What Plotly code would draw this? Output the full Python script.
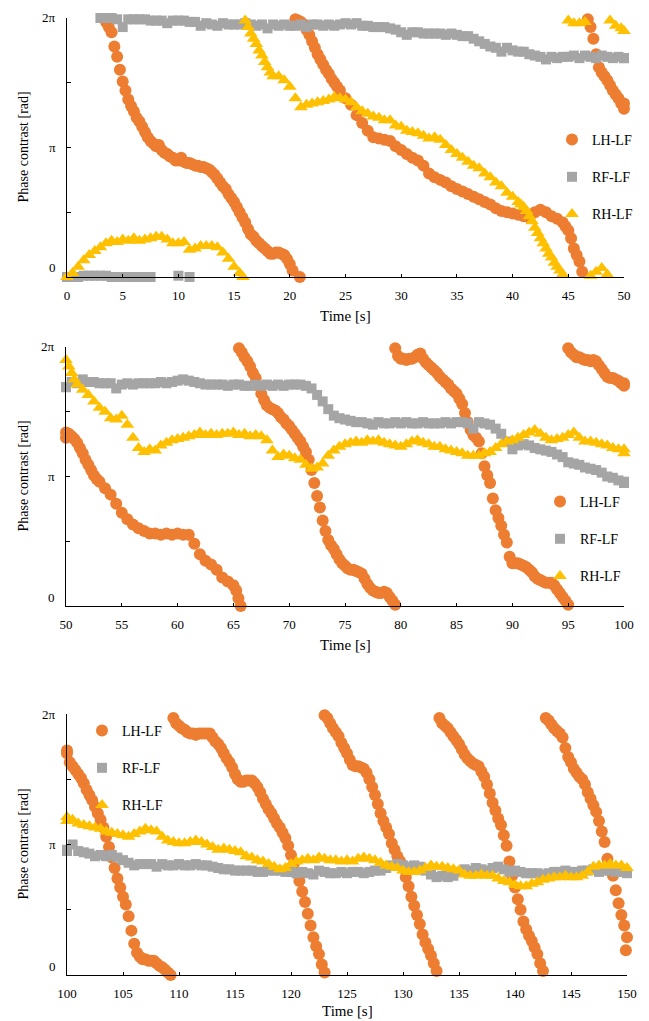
import numpy as np
import plotly.graph_objects as go

# ---------------- data (phase contrast in units of pi, time in s) ----------------
# each segment: (start time [s], sampling step [s], values [x pi rad])
LH_SEGMENTS = [
    (3.5, 0.25, [1.97, 1.93, 1.89, 1.78, 1.70, 1.60, 1.51, 1.44, 1.37, 1.32,
                 1.28, 1.23, 1.20, 1.16, 1.12, 1.08, 1.05, 1.03, 1.01, 1.02,
                 0.98, 0.96, 0.95, 0.93, 0.92, 0.90, 0.90, 0.92, 0.89, 0.88,
                 0.88, 0.87, 0.86, 0.86, 0.85, 0.85, 0.84, 0.83, 0.81, 0.79,
                 0.76, 0.73, 0.70, 0.68, 0.64, 0.61, 0.58, 0.54, 0.50, 0.46,
                 0.42, 0.37, 0.33, 0.31, 0.28, 0.26, 0.24, 0.22, 0.20, 0.18,
                 0.18, 0.19, 0.19, 0.18, 0.17, 0.14, 0.10, 0.05]),
    (20.9, 0.25, [0.00]),
    (20.5, 0.25, [1.99, 1.98, 1.97, 1.95, 1.91, 1.87, 1.82, 1.77, 1.72, 1.68,
                  1.64, 1.60, 1.57, 1.53, 1.50, 1.47]),
    (24.5, 0.5, [1.44, 1.38, 1.33, 1.25, 1.19, 1.13, 1.08, 1.07, 1.06, 1.05,
                 1.01, 0.98, 0.95, 0.92, 0.90, 0.86, 0.80, 0.77, 0.75, 0.73,
                 0.70, 0.68, 0.66, 0.64, 0.62, 0.60, 0.58, 0.56, 0.53, 0.51,
                 0.50, 0.49, 0.48, 0.47, 0.46, 0.50, 0.52, 0.50, 0.47, 0.45,
                 0.42]),
    (44.75, 0.25, [0.39, 0.36, 0.30, 0.22, 0.17, 0.12, 0.04]),
    (46.75, 0.25, [1.99, 1.93, 1.84, 1.72, 1.62, 1.58, 1.55, 1.52, 1.48, 1.44,
                   1.41, 1.38, 1.34, 1.30]),
    (50.0, 0.25, [1.34, 1.33, 1.31, 1.29, 1.26, 1.22, 1.18, 1.13, 1.09, 1.05,
                  1.01, 0.98]),
    (53.0, 0.5, [0.96, 0.91, 0.86, 0.79, 0.72, 0.67, 0.63, 0.60, 0.58, 0.56,
                 0.56, 0.55, 0.56, 0.55, 0.56, 0.55, 0.55, 0.48, 0.40, 0.35,
                 0.32, 0.28, 0.22, 0.19, 0.16]),
    (65.25, 0.2, [0.12, 0.06, 0.00]),
    (65.5, 0.25, [1.99, 1.96, 1.92, 1.89, 1.85, 1.80, 1.76, 1.70, 1.64, 1.59,
                  1.55, 1.53, 1.52, 1.51, 1.49, 1.46, 1.44, 1.41, 1.39, 1.36,
                  1.33, 1.30, 1.27, 1.23, 1.19, 1.13, 1.05, 0.95, 0.85, 0.76,
                  0.66, 0.58, 0.51, 0.47, 0.44, 0.40, 0.36, 0.33, 0.31, 0.29,
                  0.28, 0.28, 0.27, 0.26, 0.25, 0.21, 0.17, 0.14, 0.12, 0.11,
                  0.10, 0.10, 0.11, 0.10, 0.07, 0.04, 0.01]),
    (79.5, 0.25, [1.99, 1.93, 1.91, 1.91, 1.90, 1.91, 1.91, 1.92, 1.94, 1.95,
                  1.91, 1.88, 1.86, 1.84, 1.82, 1.80, 1.77, 1.75, 1.73, 1.71,
                  1.68, 1.66, 1.64, 1.60, 1.56, 1.49, 1.42, 1.36, 1.32, 1.30,
                  1.27, 1.18, 1.08, 1.01, 0.95, 0.83, 0.74, 0.68, 0.62, 0.55,
                  0.49, 0.38, 0.33, 0.33, 0.33, 0.32, 0.31, 0.30, 0.28, 0.26,
                  0.23, 0.21, 0.20, 0.19, 0.18, 0.18, 0.18, 0.16, 0.13, 0.10,
                  0.07, 0.04, 0.01]),
    (95.0, 0.25, [1.99, 1.96, 1.94, 1.92, 1.92, 1.91, 1.90, 1.90, 1.89, 1.90,
                  1.89, 1.86, 1.83, 1.80, 1.77, 1.76, 1.76, 1.75, 1.74, 1.72,
                  1.70]),
    (100.0, 0.25, [1.72, 1.63, 1.60, 1.57, 1.54, 1.51, 1.47, 1.42, 1.38, 1.34,
                   1.29, 1.24, 1.19, 1.13, 1.06, 0.98, 0.90, 0.82, 0.74, 0.67,
                   0.60, 0.54, 0.45, 0.34, 0.24, 0.17, 0.14, 0.12, 0.12, 0.11,
                   0.11, 0.11, 0.09, 0.07, 0.06, 0.04, 0.02, 0.00]),
    (109.5, 0.25, [1.97, 1.93, 1.91, 1.89, 1.88, 1.86, 1.85, 1.85, 1.84, 1.85,
                   1.85, 1.85, 1.85, 1.85, 1.82, 1.79, 1.77, 1.74, 1.70, 1.66,
                   1.63, 1.59, 1.54, 1.50, 1.48, 1.48, 1.49, 1.49, 1.49, 1.47,
                   1.44, 1.40, 1.35, 1.31, 1.27, 1.24, 1.20, 1.16, 1.13, 1.09,
                   1.05, 0.99, 0.92, 0.85, 0.78, 0.72, 0.64, 0.56, 0.47, 0.38,
                   0.29, 0.22, 0.16, 0.08, 0.02]),
    (123.0, 0.25, [1.99, 1.97, 1.93, 1.89, 1.86, 1.83, 1.78, 1.74, 1.70, 1.65,
                   1.61, 1.60, 1.60, 1.59, 1.58, 1.55, 1.50, 1.44, 1.38, 1.31,
                   1.24, 1.18, 1.13, 1.08, 1.01, 0.96, 0.91, 0.87, 0.82, 0.75,
                   0.68, 0.60, 0.53, 0.46, 0.39, 0.31, 0.25, 0.20, 0.15, 0.09,
                   0.03]),
    (133.25, 0.25, [1.97, 1.93, 1.91, 1.89, 1.86, 1.83, 1.80, 1.77, 1.73, 1.69,
                    1.66, 1.64, 1.62, 1.61, 1.60, 1.56, 1.52, 1.46, 1.39, 1.32,
                    1.26, 1.20, 1.15, 1.07, 0.99, 0.87, 0.76, 0.67, 0.58, 0.50,
                    0.41, 0.35, 0.30, 0.26, 0.21, 0.16, 0.09, 0.03]),
    (142.75, 0.25, [1.97, 1.95, 1.92, 1.89, 1.87, 1.85, 1.82, 1.74, 1.67, 1.63,
                    1.58, 1.55, 1.52, 1.50, 1.46, 1.40, 1.35, 1.30, 1.25, 1.18,
                    1.10, 1.02, 0.89, 0.82, 0.76, 0.65, 0.55, 0.46, 0.38, 0.29]),
    (149.9, 0.25, [0.19]),
]

RF_SEGMENTS = [
    (0.0, 0.5, [0.00, 0.00, 0.00, 0.01, 0.01, 0.01, 0.01, 0.01, 0.00, 0.00,
                0.00, 0.00, 0.00, 0.00, 0.00, 0.00]),
    (10.0, 1.0, [0.01, 0.00]),
    (3.0, 0.5, [2.00, 2.00, 2.00, 1.99, 1.93, 1.99, 1.99, 1.99, 1.99, 1.98,
                1.98, 1.98, 1.96, 1.98, 1.98, 1.98, 1.97, 1.97, 1.94, 1.96,
                1.95, 1.94, 1.96, 1.95, 1.95, 1.95, 1.96, 1.95, 1.94, 1.95,
                1.92, 1.95, 1.94, 1.95, 1.94, 1.94, 1.95, 1.93, 1.95, 1.95,
                1.94, 1.95, 1.94, 1.95, 1.96, 1.95, 1.96, 1.94, 1.94, 1.93,
                1.93, 1.93, 1.92, 1.91, 1.89, 1.87, 1.89, 1.89, 1.88, 1.88,
                1.88, 1.88, 1.87, 1.88, 1.87, 1.86, 1.86, 1.84, 1.82, 1.80,
                1.78, 1.77, 1.74, 1.77, 1.75, 1.74, 1.74, 1.72, 1.71, 1.70,
                1.68, 1.70, 1.69, 1.70, 1.70, 1.71, 1.69, 1.71, 1.70, 1.69,
                1.71, 1.70, 1.69, 1.70, 1.69]),
    (50.0, 0.5, [1.69, 1.73, 1.72, 1.75, 1.73, 1.73, 1.72, 1.72, 1.72, 1.68,
                 1.71, 1.72, 1.71, 1.72, 1.72, 1.72, 1.72, 1.73, 1.72, 1.73,
                 1.74, 1.75, 1.74, 1.73, 1.72, 1.71, 1.71, 1.71, 1.71, 1.70,
                 1.71, 1.71, 1.70, 1.70, 1.71, 1.70, 1.71, 1.70, 1.71, 1.70,
                 1.71, 1.71, 1.71, 1.70, 1.68, 1.63, 1.58, 1.52, 1.47, 1.45,
                 1.44, 1.43, 1.42, 1.42, 1.41, 1.40, 1.42, 1.41, 1.41, 1.42,
                 1.41, 1.42, 1.41, 1.41, 1.42, 1.41, 1.41, 1.41, 1.42, 1.41,
                 1.42, 1.42, 1.41, 1.37, 1.42, 1.41, 1.40, 1.37, 1.33, 1.27,
                 1.21, 1.24, 1.25, 1.24, 1.22, 1.21, 1.20, 1.19, 1.17, 1.15,
                 1.11, 1.10, 1.09, 1.07, 1.06, 1.05, 1.03, 1.00, 0.99, 0.97,
                 0.95]),
    (100.0, 0.5, [0.96, 1.00, 0.95, 0.94, 0.93, 0.91, 0.92, 0.91, 0.92, 0.90,
                  0.88, 0.86, 0.84, 0.85, 0.85, 0.85, 0.83, 0.85, 0.84, 0.84,
                  0.85, 0.84, 0.84, 0.85, 0.84, 0.84, 0.83, 0.82, 0.81, 0.81,
                  0.80, 0.80, 0.80, 0.80, 0.79, 0.79, 0.80, 0.80, 0.80, 0.79,
                  0.79, 0.78, 0.79, 0.78, 0.77, 0.80, 0.79, 0.78, 0.78, 0.79,
                  0.78, 0.79, 0.79, 0.78, 0.79, 0.80, 0.80, 0.82, 0.84, 0.85,
                  0.84, 0.83, 0.84, 0.83, 0.80, 0.77, 0.75, 0.76, 0.75, 0.76,
                  0.79, 0.81, 0.80, 0.82, 0.81, 0.80, 0.82, 0.83, 0.81, 0.79,
                  0.80, 0.79, 0.78, 0.78, 0.78, 0.77, 0.78, 0.79, 0.79, 0.80,
                  0.79, 0.79, 0.80, 0.80, 0.81, 0.79, 0.80, 0.80, 0.79, 0.79,
                  0.78]),
]

RH_SEGMENTS = [
    (0.0, 0.5, [0.00, 0.03, 0.08, 0.13, 0.17, 0.20, 0.23, 0.26, 0.28, 0.27,
                0.29, 0.28, 0.30, 0.28, 0.29, 0.30, 0.31, 0.31, 0.29, 0.26,
                0.26, 0.27, 0.21, 0.22, 0.24, 0.24, 0.24, 0.23, 0.19, 0.14,
                0.08, 0.03]),
    (15.8, 0.5, [0.00]),
    (16.0, 0.25, [1.98, 1.93, 1.88, 1.84, 1.80, 1.75, 1.71, 1.66, 1.62, 1.58]),
    (18.5, 0.5, [1.55, 1.55, 1.52, 1.47, 1.38,
                 1.31, 1.33, 1.34, 1.35, 1.36, 1.37, 1.39, 1.38, 1.37, 1.35,
                 1.31, 1.28, 1.26, 1.24, 1.23, 1.21, 1.21, 1.17, 1.16, 1.13,
                 1.12, 1.11, 1.09, 1.07, 1.08, 1.06, 1.02, 0.98, 0.95, 0.92,
                 0.89, 0.86, 0.84, 0.80, 0.77, 0.73, 0.70, 0.65, 0.62, 0.58]),
    (40.75, 0.25, [0.56, 0.54, 0.51, 0.47, 0.43, 0.38, 0.34, 0.30, 0.26, 0.22,
                   0.18, 0.15, 0.11, 0.08, 0.05, 0.02]),
    (45.0, 0.5, [1.98, 1.96, 1.96, 1.97]),
    (47.0, 0.5, [0.01, 0.04, 0.07, 0.02]),
    (48.75, 0.5, [1.98, 1.94, 1.92]),
    (50.0, 0.25, [1.90, 1.85, 1.80, 1.75]),
    (51.0, 0.5, [1.71, 1.67, 1.63, 1.58, 1.53, 1.50, 1.45, 1.44,
                 1.47, 1.40, 1.30, 1.22, 1.19, 1.21, 1.20, 1.24, 1.26, 1.28,
                 1.29, 1.30, 1.31, 1.32, 1.34, 1.32, 1.33, 1.32, 1.33, 1.33,
                 1.34, 1.32, 1.33, 1.31, 1.32, 1.31, 1.28, 1.20, 1.15, 1.17,
                 1.16, 1.14, 1.13, 1.09, 1.06, 1.07, 1.10, 1.16, 1.20, 1.23,
                 1.25, 1.26, 1.27, 1.26, 1.28, 1.27, 1.28, 1.26, 1.25, 1.24,
                 1.23, 1.25, 1.27, 1.28, 1.26, 1.25, 1.23, 1.23, 1.21, 1.20,
                 1.19, 1.18, 1.16, 1.16, 1.16, 1.18, 1.19, 1.22, 1.25, 1.27,
                 1.28, 1.30, 1.32, 1.34, 1.36, 1.33, 1.30, 1.28, 1.29, 1.30,
                 1.32, 1.34, 1.30, 1.27, 1.27, 1.26, 1.25, 1.24, 1.22, 1.21,
                 1.18]),
    (100.0, 0.5, [1.21, 1.19, 1.16, 1.15, 1.14, 1.13, 1.12, 1.10, 1.09, 1.08,
                  1.07, 1.06, 1.08, 1.10, 1.12, 1.11, 1.10, 1.06, 1.03, 1.02,
                  1.01, 1.01, 1.02, 1.03, 1.02, 1.00, 0.98, 0.96, 0.97, 0.96,
                  0.95, 0.94, 0.91, 0.90, 0.88, 0.87, 0.85, 0.83, 0.81, 0.82,
                  0.85, 0.87, 0.88, 0.89, 0.88, 0.90, 0.89, 0.88, 0.88, 0.87,
                  0.88, 0.87, 0.89, 0.90, 0.89, 0.88, 0.86, 0.84, 0.83, 0.82,
                  0.80, 0.79, 0.79, 0.80, 0.82, 0.84, 0.83, 0.83, 0.82, 0.81,
                  0.80, 0.77, 0.76, 0.76, 0.77, 0.76, 0.76, 0.74, 0.72, 0.71,
                  0.69, 0.68, 0.68, 0.70, 0.71, 0.73, 0.74, 0.75, 0.75, 0.76,
                  0.75, 0.75, 0.76, 0.79, 0.83, 0.84, 0.84, 0.85, 0.84, 0.84,
                  0.82]),
]

SERIES_NAMES = ["LH-LF", "RF-LF", "RH-LF"]
PANEL_RANGES = [(0, 50), (50, 100), (100, 150)]
Y_TICK_VALUES = [0, 1, 2]
Y_TICK_LABELS = ["0", "π", "2π"]

# ---------------- styling ----------------
COLORS = ["#ED7D31", "#A5A5A5", "#FFC000"]
SYMBOLS = ["circle", "square", "triangle-up"]
SIZES = [12, 10, 12]
FONT = "Liberation Serif, Times New Roman, serif"
W, H = 649, 1021

# plot areas in pixels: (left, right, top, bottom)
PANEL_PX = [(67, 624, 18, 277), (66, 624, 347, 606), (67, 627, 714, 975)]
XTITLE_Y_PX = [316, 645, 1011]
LEGEND_POS_PX = [(552, 124), (540, 486), (82, 715)]


def expand(segments):
    t, y = [], []
    for t0, dt, vals in segments:
        for i, v in enumerate(vals):
            t.append(round(t0 + i * dt, 3))
            y.append(v)
    return np.array(t), np.array(y)


series = [expand(s) for s in (LH_SEGMENTS, RF_SEGMENTS, RH_SEGMENTS)]

fig = go.Figure()
annotations = []
layout = {}

for p, (lo, hi) in enumerate(PANEL_RANGES):
    k = p + 1
    xa = "x" if k == 1 else f"x{k}"
    ya = "y" if k == 1 else f"y{k}"
    lg = "legend" if k == 1 else f"legend{k}"
    for s, (t, y) in enumerate(series):
        m = (t >= lo) & (t <= hi)
        fig.add_trace(go.Scatter(
            x=t[m], y=y[m], mode="markers", name=SERIES_NAMES[s],
            marker=dict(color=COLORS[s], symbol=SYMBOLS[s], size=SIZES[s],
                        line=dict(width=0)),
            xaxis=xa, yaxis=ya, legend=lg, legendgroup=f"{SERIES_NAMES[s]}{k}",
            cliponaxis=False, showlegend=True, hoverinfo="skip"))

    l, r, tp, b = PANEL_PX[p]
    xdom = [l / W, r / W]
    ydom = [1 - b / H, 1 - tp / H]
    xkey = "xaxis" if k == 1 else f"xaxis{k}"
    ykey = "yaxis" if k == 1 else f"yaxis{k}"
    layout[xkey] = dict(
        domain=xdom, range=[lo, hi], anchor=ya, tick0=lo, dtick=5,
        ticks="inside", ticklen=3, tickcolor="black", tickwidth=1,
        showline=True, linecolor="black", linewidth=1, showgrid=False,
        zeroline=False, tickfont=dict(family=FONT, size=13, color="black"),
        ticklabelstandoff=6, automargin=False, fixedrange=True)
    layout[ykey] = dict(
        domain=ydom, range=[0, 2], anchor=xa,
        tickvals=[0, 0.5, 1, 1.5, 2], ticks="inside", ticklen=4,
        tickcolor="black", tickwidth=1, showticklabels=False,
        showline=True, linecolor="black", linewidth=1, showgrid=False,
        zeroline=False, automargin=False, fixedrange=True)

    for v, txt in zip(Y_TICK_VALUES, Y_TICK_LABELS):
        annotations.append(dict(
            x=(l - 9) / W, xref="paper", xanchor="right",
            y=v, yref=ya, yanchor="middle", yshift=9 if v == 0 else 0,
            text=txt, showarrow=False,
            font=dict(family=FONT, size=13, color="black")))
    annotations.append(dict(
        x=23 / W, xref="paper", xanchor="center",
        y=(ydom[0] + ydom[1]) / 2, yref="paper", yanchor="middle",
        text="Phase contrast [rad]", textangle=-90, showarrow=False,
        font=dict(family=FONT, size=14, color="black")))
    annotations.append(dict(
        x=(xdom[0] + xdom[1]) / 2, xref="paper", xanchor="center",
        y=1 - XTITLE_Y_PX[p] / H, yref="paper", yanchor="middle",
        text="Time [s]", showarrow=False,
        font=dict(family=FONT, size=15, color="black")))

    lx, ly = LEGEND_POS_PX[p]
    layout["legend" if k == 1 else f"legend{k}"] = dict(
        x=lx / W, y=1 - ly / H, xanchor="left", yanchor="top",
        xref="paper", yref="paper",
        bgcolor="rgba(0,0,0,0)", borderwidth=0, tracegroupgap=16,
        traceorder="grouped",
        font=dict(family=FONT, size=14, color="black"))

fig.update_layout(
    width=W, height=H, autosize=False,
    margin=dict(l=0, r=0, t=0, b=0, pad=0),
    paper_bgcolor="white", plot_bgcolor="white",
    annotations=annotations, **layout)

fig.write_html("out.html",
               config={"displayModeBar": False, "staticPlot": True},
               post_script="document.body.style.margin='0px';")
